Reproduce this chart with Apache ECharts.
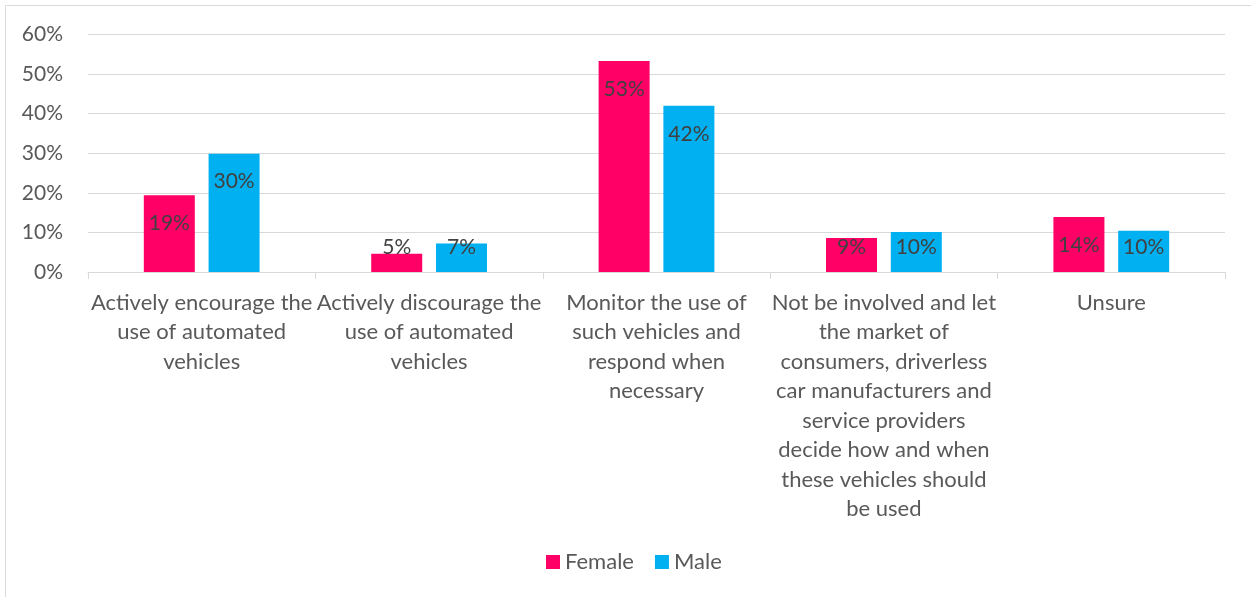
<!DOCTYPE html>
<html>
<head>
<meta charset="utf-8">
<script src="https://cdn.jsdelivr.net/npm/echarts@6/dist/echarts.min.js"></script>
<style>
  html, body { margin: 0; padding: 0; background: #fff; }
  #chart { width: 1251px; height: 597px; }
</style>
</head>
<body>
<div id="chart"></div>
<script>
// categories (line breaks follow the wrapping in the original)
const categories = [
  'Actively encourage the\nuse of automated\nvehicles',
  'Actively discourage the\nuse of automated\nvehicles',
  'Monitor the use of\nsuch vehicles and\nrespond when\nnecessary',
  'Not be involved and let\nthe market of\nconsumers, driverless\ncar manufacturers and\nservice providers\ndecide how and when\nthese vehicles should\nbe used',
  'Unsure'
]
const female = [19.4, 4.6, 53.3, 8.6, 13.9]
const male = [29.9, 7.2, 42.0, 10.1, 10.4]
const yTicks = { min: 0, max: 60, interval: 10 }

const font = 'Lato, "Open Sans", sans-serif'
const gridTop = 34.5
const gridBottom = 325
const gridHeight = 597 - gridTop - gridBottom
const pxPerUnit = gridHeight / (yTicks.max - yTicks.min)

// labels sit inside the top of the bar, but never closer than 25px to the axis
const withLabels = (values) => values.map(v => ({
  value: v,
  label: { position: ['50%', Math.min(28, v * pxPerUnit - 25)] }
}))

const labelStyle = {
  show: true,
  align: 'center',
  verticalAlign: 'middle',
  color: '#404040',
  fontFamily: font,
  fontSize: 21,
  formatter: (p) => Math.round(p.value) + '%'
}

const chart = echarts.init(document.getElementById('chart'))
chart.setOption({
  animation: false,
  graphic: [{
    type: 'rect',
    shape: { x: 5.5, y: 5.5, width: 1300, height: 700 },
    style: { fill: 'none', stroke: '#d9d9d9', lineWidth: 1 },
    silent: true
  }],
  grid: { left: 88, right: 26, top: gridTop, bottom: gridBottom },
  legend: {
    data: ['Female', 'Male'],
    bottom: 19,
    left: 541,
    icon: 'rect',
    itemWidth: 14,
    itemHeight: 14,
    itemGap: 21,
    textStyle: { color: '#595959', fontFamily: font, fontSize: 22 }
  },
  xAxis: {
    type: 'category',
    data: categories,
    axisLine: { lineStyle: { color: '#d9d9d9' } },
    axisTick: { show: true, length: 7, lineStyle: { color: '#d9d9d9' } },
    axisLabel: {
      interval: 0,
      margin: 16,
      color: '#595959',
      fontFamily: font,
      fontSize: 22,
      lineHeight: 29.5,
      verticalAlign: 'top'
    }
  },
  yAxis: {
    type: 'value',
    min: yTicks.min,
    max: yTicks.max,
    interval: yTicks.interval,
    axisLine: { show: false },
    axisTick: { show: false },
    splitLine: { lineStyle: { color: '#d9d9d9', width: 1 } },
    axisLabel: {
      margin: 25,
      color: '#595959',
      fontFamily: font,
      fontSize: 21,
      formatter: '{value}%'
    }
  },
  series: [
    {
      name: 'Female',
      type: 'bar',
      data: withLabels(female),
      barWidth: 51,
      barGap: '27%',
      itemStyle: { color: '#ff0066' },
      label: labelStyle
    },
    {
      name: 'Male',
      type: 'bar',
      data: withLabels(male),
      barWidth: 51,
      itemStyle: { color: '#00b0f0' },
      label: labelStyle
    }
  ]
})
</script>
</body>
</html>
